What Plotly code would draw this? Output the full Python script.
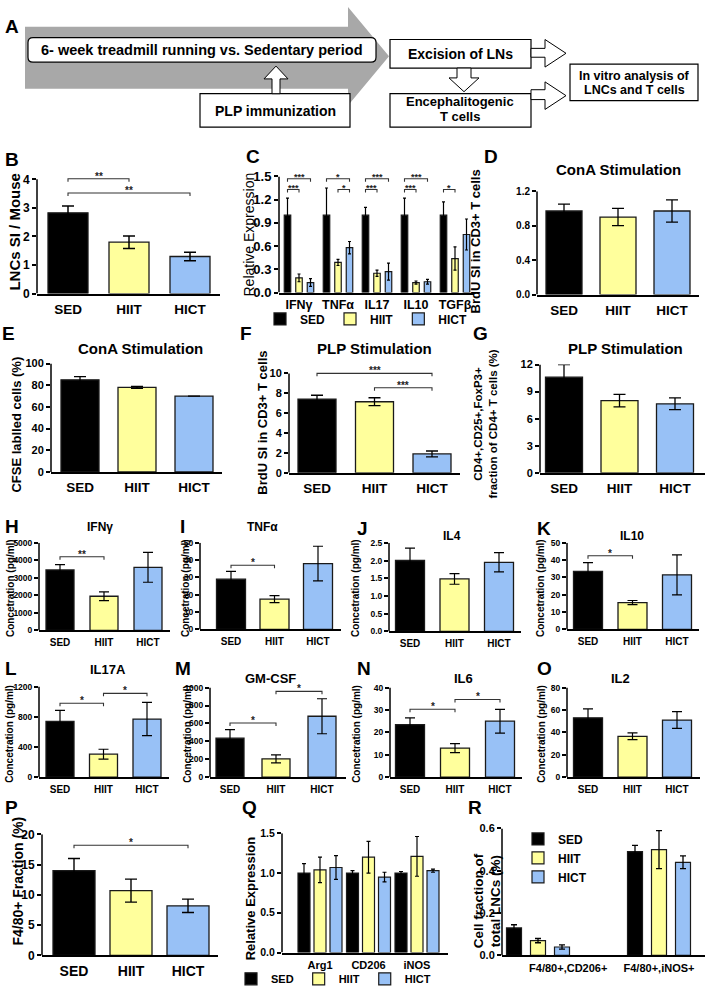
import plotly.graph_objects as go

W, H = 709, 994
FONT = "Liberation Sans"

# ---------------- data ----------------
groups = ["SED", "HIIT", "HICT"]

B_mean = [2.83, 1.80, 1.30]
B_err = [0.24, 0.22, 0.15]

C_cytokines = ["IFNγ", "TNFα", "IL17", "IL10", "TGFβ"]
C_sed = [1.0, 1.0, 1.0, 1.0, 1.0]
C_sed_err = [0.22, 0.35, 0.10, 0.22, 0.17]
C_hiit = [0.19, 0.39, 0.25, 0.13, 0.44]
C_hiit_err = [0.05, 0.04, 0.04, 0.02, 0.15]
C_hict = [0.13, 0.58, 0.27, 0.14, 0.75]
C_hict_err = [0.05, 0.08, 0.11, 0.03, 0.20]

D_mean = [0.97, 0.90, 0.97]
D_err = [0.08, 0.10, 0.13]

E_mean = [85, 78, 70]
E_err = [3, 1, 0]

F_mean = [7.4, 7.15, 1.9]
F_err = [0.4, 0.4, 0.3]

G_mean = [10.6, 8.0, 7.65]
G_err = [1.4, 0.7, 0.65]

H_mean = [3450, 1950, 3600]
H_err = [300, 250, 850]

I_mean = [29, 17.5, 38]
I_err = [4.5, 2, 10]

J_mean = [2.0, 1.48, 1.95]
J_err = [0.35, 0.15, 0.27]

K_mean = [33.5, 15.5, 31.5]
K_err = [5, 1.2, 11.5]

L_mean = [740, 305, 770]
L_err = [145, 65, 220]

M_mean = [435, 205, 680]
M_err = [95, 45, 195]

N_mean = [23.5, 13, 25]
N_err = [3, 2, 5.3]

O_mean = [53, 36.5, 51]
O_err = [8, 3, 7.5]

P_mean = [14, 10.7, 8.2]
P_err = [2, 1.9, 1.1]

Q_genes = ["Arg1", "CD206", "iNOS"]
Q_sed = [1.0, 1.0, 1.0]
Q_sed_err = [0.12, 0.03, 0.02]
Q_hiit = [1.04, 1.20, 1.21]
Q_hiit_err = [0.16, 0.20, 0.25]
Q_hict = [1.07, 0.95, 1.03]
Q_hict_err = [0.15, 0.06, 0.02]

R_pops = ["F4/80+,CD206+", "F4/80+,iNOS+"]
R_sed = [0.13, 0.49]
R_sed_err = [0.015, 0.03]
R_hiit = [0.07, 0.50]
R_hiit_err = [0.01, 0.09]
R_hict = [0.04, 0.44]
R_hict_err = [0.01, 0.03]

# significance: (bar a, bar b, level, label)  /  grouped: (group, bar a, bar b, level, label)
B_sig = [(0, 1, 4.02, "**"), (0, 2, 3.52, "**")]
C_sig = [(0, 0, 2, 1.47, "***"), (0, 0, 1, 1.33, "***"),
         (1, 0, 2, 1.47, "*"), (1, 1, 2, 1.33, "*"),
         (2, 0, 2, 1.47, "***"), (2, 0, 1, 1.33, "***"),
         (3, 0, 2, 1.47, "***"), (3, 0, 1, 1.33, "***"),
         (4, 0, 1, 1.33, "*")]
F_sig = [(0, 2, 10.0, "***"), (1, 2, 8.55, "***")]
H_sig = [(0, 1, 4200, "**")]
I_sig = [(0, 1, 37, "*")]
K_sig = [(0, 1, 42.5, "*")]
L_sig = [(0, 1, 980, "*"), (1, 2, 1110, "*")]
M_sig = [(0, 1, 605, "*"), (1, 2, 958, "*")]
N_sig = [(0, 1, 30.3, "*"), (1, 2, 34.7, "*")]
P_sig = [(0, 2, 18.2, "*")]

COLORS = ["#000000", "#FFFF9C", "#98C1F6"]
EDGE = "#1a1a1a"


def fx(p):
    return p / W


def fy(p):
    return 1 - p / H


fig = go.Figure()
shapes, annotations = [], []
layout = {}

conc = "Concetration (pg/ml)"
specs = [
    dict(mode="single", data=(B_mean, B_err), cats=groups, xs=37, xe=220, c0=68, sp=61, bw=40,
         y0=291, yt=175, tmax=4, dtick=1, top=4.12, fmt=".0f", tfs=12, xfs=13.5, sig=B_sig, et=1.5, ew=6),
    dict(mode="group", data=[(C_sed, C_sed_err), (C_hiit, C_hiit_err), (C_hict, C_hict_err)],
         cats=C_cytokines, xs=279, xe=474, c0=299, sp=39, bw=6.5, off=11.5,
         y0=290, yt=172, tmax=1.5, dtick=0.3, fmt=".1f", tfs=13, xfs=12.5, xst=0, sig=C_sig,
         legend="legend", et=1.2, ew=1.5, sfs=9),
    dict(mode="single", data=(D_mean, D_err), cats=groups, xs=537, xe=699, c0=564, sp=54, bw=36,
         y0=292, yt=187, tmax=1.2, dtick=0.4, fmt=".1f", tfs=10, xfs=13.5, sig=[], et=1.3, ew=6),
    dict(mode="single", data=(E_mean, E_err), cats=groups, xs=51, xe=222, c0=80, sp=57, bw=38,
         y0=472, yt=362, tmax=100, dtick=20, fmt=".0f", tfs=11, xfs=13.5, sig=[], et=1.3, ew=6),
    dict(mode="single", data=(F_mean, F_err), cats=groups, xs=289, xe=460, c0=317, sp=57.5, bw=38,
         y0=473, yt=372, tmax=10, dtick=2, top=10.25, fmt=".0f", tfs=11, xfs=13.5, sig=F_sig, et=1.3, ew=6),
    dict(mode="single", data=(G_mean, G_err), cats=groups, xs=540, xe=705, c0=564, sp=55.5, bw=37,
         y0=473, yt=363, tmax=12, dtick=3, fmt=".0f", tfs=11, xfs=13.5, sig=[], et=1.3, ew=6),
    dict(mode="single", data=(H_mean, H_err), cats=groups, xs=39, xe=170, c0=60, sp=44, bw=28,
         y0=633, yt=544, tmax=5000, dtick=1000, fmt=".0f", tfs=8.5, xfs=10, sig=H_sig, et=1.2, ew=5),
    dict(mode="single", data=(I_mean, I_err), cats=groups, xs=200, xe=341, c0=231, sp=43.5, bw=29,
         y0=632, yt=544, tmax=50, dtick=10, fmt=".0f", tfs=8.5, xfs=10, sig=I_sig, et=1.2, ew=5),
    dict(mode="single", data=(J_mean, J_err), cats=groups, xs=389, xe=521, c0=410, sp=44.5, bw=29,
         y0=634, yt=544, tmax=2.5, dtick=0.5, fmt=".1f", tfs=8.5, xfs=10, sig=[], et=1.2, ew=5),
    dict(mode="single", data=(K_mean, K_err), cats=groups, xs=567, xe=699, c0=588, sp=44.5, bw=29,
         y0=632, yt=544, tmax=50, dtick=10, fmt=".0f", tfs=8.5, xfs=10, sig=K_sig, et=1.2, ew=5),
    dict(mode="single", data=(L_mean, L_err), cats=groups, xs=39, xe=169, c0=60, sp=43.5, bw=28,
         y0=782, yt=690, tmax=1200, dtick=400, fmt=".0f", tfs=8.5, xfs=10, sig=L_sig, et=1.2, ew=5),
    dict(mode="single", data=(M_mean, M_err), cats=groups, xs=210, xe=346, c0=230, sp=46, bw=28,
         y0=782, yt=691, tmax=1000, dtick=200, fmt=".0f", tfs=8.5, xfs=10, sig=M_sig, et=1.2, ew=5),
    dict(mode="single", data=(N_mean, N_err), cats=groups, xs=390, xe=522, c0=410, sp=45, bw=29,
         y0=782, yt=691, tmax=40, dtick=10, fmt=".0f", tfs=8.5, xfs=10, sig=N_sig, et=1.2, ew=5),
    dict(mode="single", data=(O_mean, O_err), cats=groups, xs=567, xe=700, c0=588, sp=44.5, bw=29,
         y0=782, yt=691, tmax=80, dtick=20, fmt=".0f", tfs=8.5, xfs=10, sig=[], et=1.2, ew=5),
    dict(mode="single", data=(P_mean, P_err), cats=groups, xs=42, xe=218, c0=74, sp=57, bw=42,
         y0=963, yt=840, tmax=20, dtick=5, fmt=".0f", tfs=12, xfs=14, sig=P_sig, et=1.4, ew=6),
    dict(mode="group", data=[(Q_sed, Q_sed_err), (Q_hiit, Q_hiit_err), (Q_hict, Q_hict_err)],
         cats=Q_genes, xs=282, xe=448, c0=320, sp=48.5, bw=12, off=16,
         y0=960, yt=839, tmax=1.5, dtick=0.5, fmt=".1f", tfs=10.5, xfs=11, sig=[], legend="legend2",
         et=1.2, ew=2),
    dict(mode="group", data=[(R_sed, R_sed_err), (R_hiit, R_hiit_err), (R_hict, R_hict_err)],
         cats=R_pops, xs=502, xe=705, c0=538, sp=121, bw=15, off=24, ticks_at=[0.25, 1.0],
         y0=963, yt=834, tmax=0.6, dtick=0.2, fmt=".1f", tfs=11, xfs=11, sig=[], legend="legend3",
         et=1.3, ew=3),
]

for idx, s in enumerate(specs, start=1):
    xa = "x" if idx == 1 else f"x{idx}"
    ya = "y" if idx == 1 else f"y{idx}"
    xname = "xaxis" if idx == 1 else f"xaxis{idx}"
    yname = "yaxis" if idx == 1 else f"yaxis{idx}"
    sp, c0 = s["sp"], s["c0"]
    pxu = (s["y0"] - s["yt"]) / s["tmax"]
    top = s.get("top", s["tmax"])
    ncat = len(s["cats"])
    layout[xname] = dict(
        domain=[fx(s["xs"]), fx(s["xe"])], range=[(s["xs"] - c0) / sp, (s["xe"] - c0) / sp],
        anchor=ya, showline=True, linecolor="black", linewidth=1.5, ticks="", showgrid=False,
        zeroline=False, tickvals=s.get("ticks_at", list(range(ncat))), ticktext=s["cats"],
        tickfont=dict(family=FONT, size=s["xfs"], color="black", weight="bold"),
        ticklabelstandoff=s.get("xst", 2), fixedrange=True)
    nt = round(s["tmax"] / s["dtick"])
    tv = [i * s["dtick"] for i in range(nt + 1)]
    tt = [format(v, s["fmt"]) for v in tv]
    layout[yname] = dict(
        domain=[fy(s["y0"]), fy(s["y0"] - top * pxu)], range=[0, top], anchor=xa,
        showline=False, ticks="outside", ticklen=4, tickwidth=1.5, tickcolor="black",
        tickvals=tv, ticktext=tt, showgrid=False, zeroline=False, fixedrange=True,
        tickfont=dict(family=FONT, size=s["tfs"], color="black", weight="bold"))
    shapes.append(dict(type="line", xref=f"{xa} domain", yref=ya, x0=0, x1=0, y0=0, y1=s["tmax"],
                       line=dict(color="black", width=1.5)))
    w = s["bw"] / sp
    eb = dict(type="data", visible=True, color="black", thickness=s["et"], width=s["ew"])
    if s["mode"] == "single":
        mean, err = s["data"]
        fig.add_trace(go.Bar(x=list(range(ncat)), y=mean, width=w,
                             marker=dict(color=COLORS, line=dict(color=EDGE, width=1.3)),
                             error_y=dict(array=err, **eb), xaxis=xa, yaxis=ya, showlegend=False))
        sig = [(a, b, lev, lab) for (a, b, lev, lab) in s["sig"]]
    else:
        o = s["off"] / sp
        for k, (mean, err) in enumerate(s["data"]):
            fig.add_trace(go.Bar(x=list(range(ncat)), y=mean, width=w, offset=(k - 1) * o - w / 2,
                                 marker=dict(color=COLORS[k], line=dict(color=EDGE, width=1.2)),
                                 error_y=dict(array=err, **eb), name=groups[k], legend=s["legend"],
                                 showlegend=True, xaxis=xa, yaxis=ya))
        sig = [(g + (k1 - 1) * o, g + (k2 - 1) * o, lev, lab) for (g, k1, k2, lev, lab) in s["sig"]]
    d = 3 / pxu
    for a, b, lev, lab in sig:
        shapes.append(dict(type="path", xref=xa, yref=ya,
                           path=f"M {a},{lev - d} L {a},{lev} L {b},{lev} L {b},{lev - d}",
                           line=dict(color="#333333", width=1.1)))
        annotations.append(dict(x=(a + b) / 2, y=lev, xref=xa, yref=ya, text=f"<b>{lab}</b>",
                                showarrow=False, yanchor="bottom", yshift=-5,
                                font=dict(family=FONT, size=s.get("sfs", 10), color="#222222")))


def text(x, y, s, size, bold=True, angle=0, xanchor="center"):
    annotations.append(dict(x=fx(x), y=fy(y), xref="paper", yref="paper",
                            text=f"<b>{s}</b>" if bold else s, showarrow=False,
                            font=dict(family=FONT, size=size, color="black"), textangle=angle,
                            xanchor=xanchor, yanchor="middle"))


# panel letters
for lab, x, y in [("A", 3, 20), ("B", 3, 155), ("C", 244, 152), ("D", 482, 152), ("E", 0, 332),
                  ("F", 238, 332), ("G", 471, 331), ("H", 3, 527), ("I", 178, 527), ("J", 355, 529),
                  ("K", 535, 529), ("L", 3, 672), ("M", 173, 672), ("N", 355, 672), ("O", 535, 672),
                  ("P", 3, 813), ("Q", 240, 813), ("R", 466, 813)]:
    text(x, y, lab, 19, xanchor="left")

# panel titles
for s, x, y, size in [("ConA Stimulation", 618, 165, 15), ("ConA Stimulation", 140, 347, 15),
                      ("PLP Stimulation", 375, 347, 15), ("PLP Stimulation", 625, 347, 15),
                      ("IFNγ", 100, 528, 12), ("TNFα", 262, 528, 12), ("IL4", 452, 537, 12),
                      ("IL10", 632, 537, 12), ("IL17A", 108, 673, 13), ("GM-CSF", 270, 682, 13),
                      ("IL6", 463, 682, 13), ("IL2", 620, 682, 13)]:
    text(x, y, s, size)

# y-axis titles
for s, x, y, size, bold in [("LNCs SI / Mouse", 15, 228, 15, True),
                            ("Relative Expression", 249, 231, 14, False),
                            ("BrdU SI in CD3+ T cells", 475, 238, 13, True),
                            ("CFSE lablled cells (%)", 17, 424, 13, True),
                            ("BrdU SI in CD3+ T cells", 263, 422, 13, True),
                            ("CD4+,CD25+,FoxP3+<br>fraction of CD4+ T cells (%)", 486, 424, 11.5, True),
                            (conc, 10, 590, 10, True), (conc, 185, 590, 10, True),
                            (conc, 355, 590, 10, True), (conc, 540, 590, 10, True),
                            (conc, 10, 738, 10, True), (conc, 188, 738, 10, True),
                            (conc, 357, 738, 10, True), (conc, 542, 738, 10, True),
                            ("F4/80+ Fraction (%)", 18, 888, 14, True),
                            ("Relative Expression", 250, 905, 13, True),
                            ("Cell fraction of<br>total LNCs (%)", 487, 908, 13.5, True)]:
    text(x, y, s, size, bold=bold, angle=-90)


# ---------------- panel A (schematic) ----------------
def poly(pts, fill, lw=1.0, lc="black"):
    path = "M " + " L ".join(f"{fx(x)},{fy(y)}" for x, y in pts) + " Z"
    shapes.append(dict(type="path", xref="paper", yref="paper", path=path, fillcolor=fill,
                       line=dict(color=lc, width=lw), layer="above"))


poly([(25, 20), (348, 20), (348, 0), (389, 50), (348, 100), (348, 83), (25, 83)], "#A8A8A8", 0, "#A8A8A8")


def rrect(x0, y0, x1, y1, r):
    path = (f"M {fx(x0 + r)},{fy(y0)} L {fx(x1 - r)},{fy(y0)} Q {fx(x1)},{fy(y0)} {fx(x1)},{fy(y0 + r)} "
            f"L {fx(x1)},{fy(y1 - r)} Q {fx(x1)},{fy(y1)} {fx(x1 - r)},{fy(y1)} "
            f"L {fx(x0 + r)},{fy(y1)} Q {fx(x0)},{fy(y1)} {fx(x0)},{fy(y1 - r)} "
            f"L {fx(x0)},{fy(y0 + r)} Q {fx(x0)},{fy(y0)} {fx(x0 + r)},{fy(y0)} Z")
    shapes.append(dict(type="path", xref="paper", yref="paper", path=path, fillcolor="white",
                       line=dict(color="black", width=1.2)))


def rect(x0, y0, x1, y1):
    shapes.append(dict(type="rect", xref="paper", yref="paper", x0=fx(x0), x1=fx(x1), y0=fy(y0), y1=fy(y1),
                       fillcolor="white", line=dict(color="black", width=1.2)))


rrect(28, 31, 376, 56, 5)
rect(200, 88, 350, 122)
rect(390, 33, 531, 62)
rect(390, 88, 531, 122)
rect(570, 58, 698, 95)
poly([(272, 88), (272, 73), (264, 73), (276, 60), (288, 73), (280, 73), (280, 88)], "white")
poly([(531, 42), (545, 42), (545, 33), (566, 47), (545, 61), (545, 51), (531, 51)], "white")
poly([(457, 62), (457, 72), (449, 72), (464, 86), (479, 72), (471, 72), (471, 62)], "white")
poly([(531, 84), (545, 84), (545, 76), (566, 90), (545, 104), (545, 94), (531, 94)], "white")

text(202, 44, "6- week treadmill running vs. Sedentary period", 14.5)
text(275, 106, "PLP immunization", 14)
text(460, 48, "Excision of LNs", 14)
text(460, 96, "Encephalitogenic", 13)
text(460, 111, "T cells", 13)
text(634, 70, "In vitro analysis of", 12.5)
text(634, 84, "LNCs and T cells", 12.5)

leg_font = dict(family=FONT, color="black", weight="bold")
fig.update_layout(
    width=W, height=H, autosize=False, margin=dict(l=0, r=0, t=0, b=0),
    paper_bgcolor="white", plot_bgcolor="white", font=dict(family=FONT, color="black"),
    shapes=shapes, annotations=annotations, showlegend=True,
    legend=dict(orientation="h", x=fx(260), y=fy(302), xanchor="left", yanchor="top",
                font=dict(size=12, **leg_font), bgcolor="rgba(0,0,0,0)", itemwidth=30, itemclick=False),
    legend2=dict(orientation="h", x=fx(231), y=fy(972), xanchor="left", yanchor="top",
                 font=dict(size=11, **leg_font), bgcolor="rgba(0,0,0,0)", itemwidth=30, itemclick=False),
    legend3=dict(orientation="v", x=fx(518), y=fy(830), xanchor="left", yanchor="top",
                 font=dict(size=12, **leg_font), bgcolor="rgba(0,0,0,0)", itemwidth=30, itemclick=False,
                 tracegroupgap=0),
    **layout,
)

fig.write_html("out.html", config={"displayModeBar": False},
               post_script="document.body.style.margin='0';document.body.style.overflow='hidden';")
